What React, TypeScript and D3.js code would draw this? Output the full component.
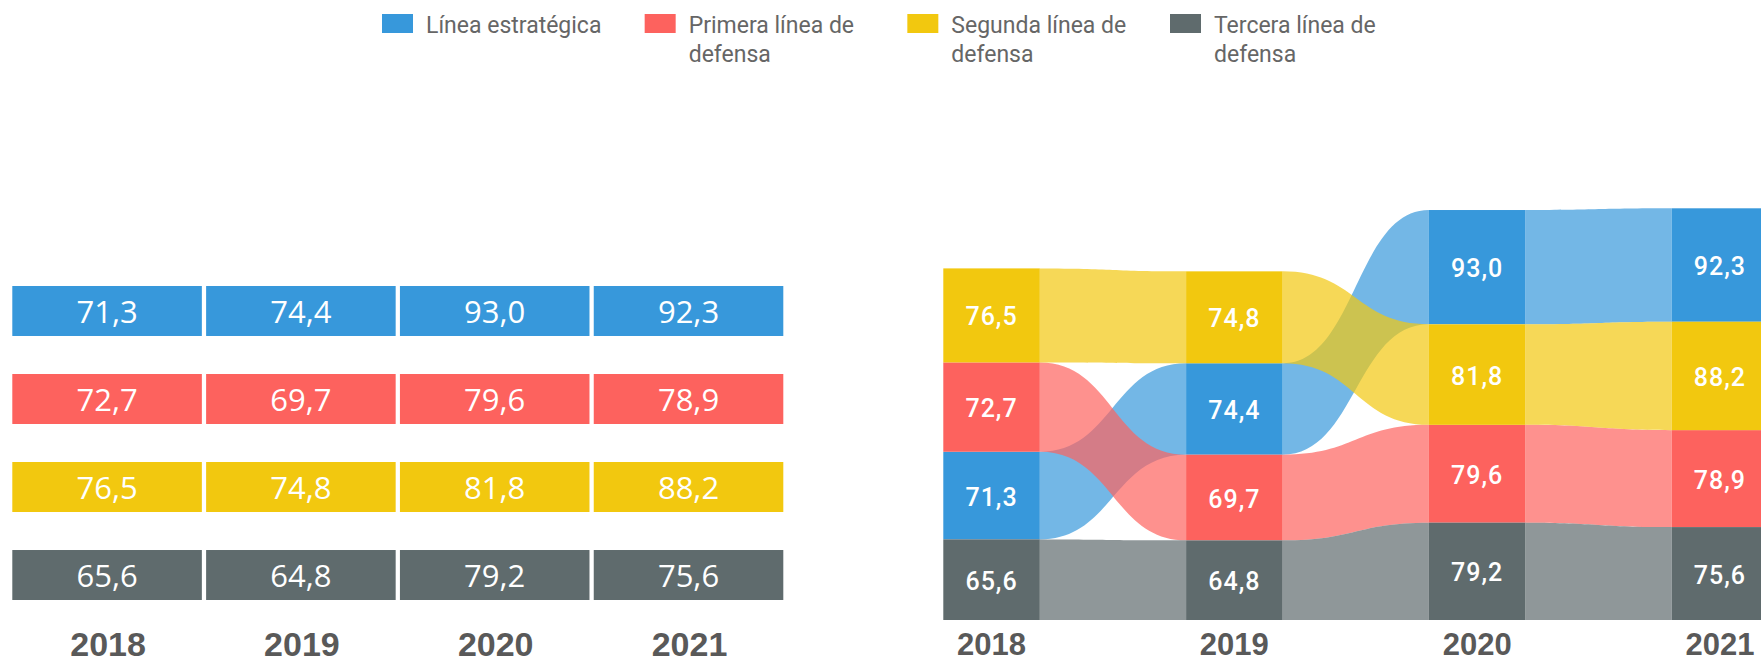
import React from "react";
import * as d3 from "d3";

const years = ["2018", "2019", "2020", "2021"];
const seriesNames = [
  "Línea estratégica",
  "Primera línea de defensa",
  "Segunda línea de defensa",
  "Tercera línea de defensa",
];
const legendLines = [
  ["Línea estratégica"],
  ["Primera línea de", "defensa"],
  ["Segunda línea de", "defensa"],
  ["Tercera línea de", "defensa"],
];
const estrategica = [71.3, 74.4, 93.0, 92.3];
const primera = [72.7, 69.7, 79.6, 78.9];
const segunda = [76.5, 74.8, 81.8, 88.2];
const tercera = [65.6, 64.8, 79.2, 75.6];
const seriesValues = [estrategica, primera, segunda, tercera];
const colors = ["#3798DB", "#FD625E", "#F2C80F", "#5F6B6D"];

const W = 1761;
const H = 663;
const fmt = (v: number) => d3.format(".1f")(v).replace(".", ",");

export default function App() {
  // ---------- Legend ----------
  const legendX = d3.scalePoint<number>().domain([0, 1, 2, 3]).range([382, 1170]);

  // ---------- Left chart (table of bars) ----------
  const colX = d3.scaleBand<string>().domain(years).range([12.3, 783.3]).paddingInner(0.022);
  const rowY = d3.scaleBand<string>().domain(seriesNames).range([286, 600]).paddingInner(0.432);

  // ---------- Right chart (ribbon / bump stacked) ----------
  const nodeW = 96.5;
  const bottom = 620;
  const nodeX = d3.scalePoint<string>().domain(years).range([943.3, 1671.7]);
  const totals = years.map((_, i) => d3.sum(seriesValues, (s) => s[i]));
  const h = d3.scaleLinear().domain([0, d3.max(totals) as number]).range([0, 411.7]);

  // stacked positions: per year, largest on top
  const pos: { y0: number; y1: number }[][] = seriesValues.map(() => []);
  years.forEach((_, i) => {
    const order = d3.range(seriesValues.length).sort((a, b) => seriesValues[b][i] - seriesValues[a][i]);
    let y = bottom - h(totals[i]);
    order.forEach((si) => {
      const hh = h(seriesValues[si][i]);
      pos[si][i] = { y0: y, y1: y + hh };
      y += hh;
    });
  });

  const ribbon = (si: number, i: number) => {
    const xa = (nodeX(years[i]) as number) + nodeW;
    const xb = nodeX(years[i + 1]) as number;
    const xm = (xa + xb) / 2;
    const a = pos[si][i];
    const b = pos[si][i + 1];
    const p = d3.path();
    p.moveTo(xa, a.y0);
    p.bezierCurveTo(xm, a.y0, xm, b.y0, xb, b.y0);
    p.lineTo(xb, b.y1);
    p.bezierCurveTo(xm, b.y1, xm, a.y1, xa, a.y1);
    p.closePath();
    return p.toString();
  };

  return (
    <svg
      width={W}
      height={H}
      style={{ position: "absolute", left: 0, top: 0, display: "block", background: "#fff" }}
    >
      {/* Legend */}
      <g>
        {seriesNames.map((name, si) => {
          const x = legendX(si) as number;
          return (
            <g key={name}>
              <rect x={x} y={14} width={31} height={19} fill={colors[si]} />
              <text
                x={x + 44}
                y={33}
                fontFamily="Roboto, 'Noto Sans', sans-serif"
                fontSize={23}
                fill="#666"
              >
                {legendLines[si].map((ln, li) => (
                  <tspan key={li} x={x + 44} y={33 + li * 29}>
                    {ln}
                  </tspan>
                ))}
              </text>
            </g>
          );
        })}
      </g>

      {/* Left chart */}
      <g>
        {seriesNames.map((name, si) =>
          years.map((yr, i) => {
            const x = colX(yr) as number;
            const y = rowY(name) as number;
            return (
              <g key={name + yr}>
                <rect x={x} y={y} width={colX.bandwidth()} height={rowY.bandwidth()} fill={colors[si]} />
                <text
                  x={x + colX.bandwidth() / 2}
                  y={y + 37}
                  textAnchor="middle"
                  fontFamily="'Open Sans', 'Noto Sans', sans-serif"
                  fontSize={31}
                  fill="#fff"
                >
                  {fmt(seriesValues[si][i])}
                </text>
              </g>
            );
          })
        )}
        {years.map((yr) => (
          <text
            key={"ly" + yr}
            x={(colX(yr) as number) + colX.bandwidth() / 2 + 1}
            y={656}
            textAnchor="middle"
            fontFamily="'Liberation Sans', Arial, sans-serif"
            fontWeight="bold"
            fontSize={34}
            fill="#595959"
          >
            {yr}
          </text>
        ))}
      </g>

      {/* Right chart: ribbons */}
      <g>
        {seriesNames.map((name, si) =>
          years.slice(0, -1).map((yr, i) => (
            <path key={"r" + name + yr} d={ribbon(si, i)} fill={colors[si]} fillOpacity={0.7} />
          ))
        )}
      </g>
      {/* Right chart: nodes */}
      <g>
        {seriesNames.map((name, si) =>
          years.map((yr, i) => {
            const x = nodeX(yr) as number;
            const p = pos[si][i];
            return (
              <g key={"n" + name + yr}>
                <rect x={x} y={p.y0} width={nodeW} height={p.y1 - p.y0} fill={colors[si]} />
                <text
                  x={x + nodeW / 2}
                  y={(p.y0 + p.y1) / 2 + 10}
                  textAnchor="middle"
                  fontFamily="Roboto, 'Noto Sans', sans-serif"
                  fontWeight={500}
                  fontSize={25}
                  letterSpacing={1}
                  fill="#fff"
                >
                  {fmt(seriesValues[si][i])}
                </text>
              </g>
            );
          })
        )}
        {years.map((yr) => (
          <text
            key={"ry" + yr}
            x={(nodeX(yr) as number) + nodeW / 2}
            y={655}
            textAnchor="middle"
            fontFamily="'Liberation Sans', Arial, sans-serif"
            fontWeight="bold"
            fontSize={31}
            fill="#595959"
          >
            {yr}
          </text>
        ))}
      </g>
    </svg>
  );
}
